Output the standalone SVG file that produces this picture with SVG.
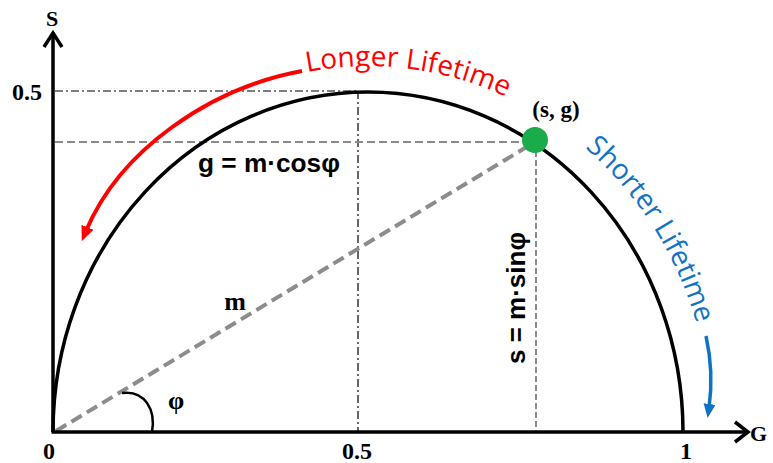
<svg xmlns="http://www.w3.org/2000/svg" width="773" height="463" viewBox="0 0 773 463">
<style>
.serif{font-family:"Liberation Serif","Times New Roman",serif;font-weight:bold;fill:#000}
.sans{font-family:"Liberation Sans",Arial,sans-serif;font-weight:bold;fill:#000}
.curve{font-family:"Open Sans","Liberation Sans",sans-serif;font-size:28px}
.axis{stroke:#000;stroke-width:3.5;fill:none}
.dd{stroke:#000;stroke-width:1.2;stroke-dasharray:8 3 2 3;fill:none}
.gd{stroke:#8a8a8a;stroke-width:2;stroke-dasharray:8 4;fill:none}
</style>
<defs>
<marker id="redHead" markerUnits="userSpaceOnUse" markerWidth="18" markerHeight="14" refX="4" refY="6.5" orient="auto">
<path d="M0,0 L15,6.5 L0,13 z" fill="#ff0000"/>
</marker>
<marker id="blueHead" markerUnits="userSpaceOnUse" markerWidth="16" markerHeight="14" refX="4" refY="6" orient="auto">
<path d="M0,0 L14,6 L0,12 z" fill="#1172c4"/>
</marker>
<path id="redPath" d="M307,72 A344 366 0 0 1 570.4,136.1"/>
<path id="bluePath" d="M585,148 A344 366 0 0 1 712,432"/>
</defs>

<g id="guides">
<line class="dd" x1="55" y1="91" x2="358" y2="91"/>
<line class="dd" x1="358" y1="91" x2="358" y2="432"/>
<line class="gd" x1="55" y1="142" x2="533" y2="142"/>
<line x1="536" y1="142" x2="536" y2="432" stroke="#8a8a8a" stroke-width="2" stroke-dasharray="6 3"/>
</g>

<g id="connectors">
<line id="m-line" x1="56" y1="431" x2="530" y2="145" stroke="#8c8c8c" stroke-width="4" stroke-dasharray="12 6"/>
<path id="angle-arc" d="M122,393 C145,390 156,410 152,432" fill="none" stroke="#000" stroke-width="2.5"/>
<path id="red-arrow" d="M302,71 C210,88 120,150 86,231" fill="none" stroke="#ff0000" stroke-width="4" marker-end="url(#redHead)"/>
<path id="blue-arrow" d="M706,336 Q714,372 709,408" fill="none" stroke="#1172c4" stroke-width="3.5" marker-end="url(#blueHead)"/>
</g>

<g id="semicircle">
<path d="M53,432 A315 340 0 0 1 683,432" class="axis"/>
</g>

<g id="axes">
<line class="axis" x1="53" y1="432" x2="53" y2="34"/>
<polyline class="axis" points="44,47 53,33 62,47"/>
<line class="axis" x1="51.5" y1="432" x2="747" y2="432"/>
<polyline class="axis" points="735,422 748,432 735,442"/>
<text class="serif" x="52" y="26" font-size="22" text-anchor="middle">S</text>
<text class="serif" x="750" y="441" font-size="22">G</text>
<text class="serif" x="27" y="100" font-size="24" text-anchor="middle">0.5</text>
<text class="serif" x="49" y="459" font-size="24" text-anchor="middle">0</text>
<text class="serif" x="357" y="459" font-size="24" text-anchor="middle">0.5</text>
<text class="serif" x="686" y="459" font-size="24" text-anchor="middle">1</text>
</g>

<g id="point">
<circle cx="535" cy="140" r="13" fill="#1aab4b"/>
<text class="serif" x="556" y="117" font-size="23" text-anchor="middle">(s, g)</text>
</g>

<g id="labels">
<text class="sans" x="198" y="172" font-size="26" textLength="142" lengthAdjust="spacingAndGlyphs">g = m·cosφ</text>
<text class="sans" font-size="26" text-anchor="middle" transform="translate(525,298) rotate(-90)">s = m·sinφ</text>
<text class="serif" x="235" y="310" font-size="26" text-anchor="middle">m</text>
<text class="serif" x="176" y="409" font-size="26" text-anchor="middle">φ</text>
<text class="curve" fill="#ff0000"><textPath href="#redPath">Longer Lifetime</textPath></text>
<text class="curve" fill="#1172c4"><textPath href="#bluePath">Shorter Lifetime</textPath></text>
</g>
</svg>
